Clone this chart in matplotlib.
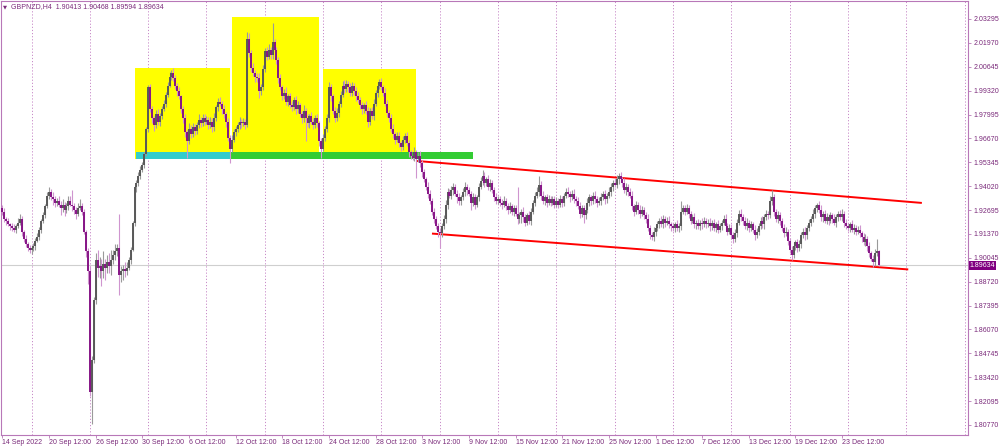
import matplotlib
matplotlib.use("Agg")
import matplotlib.pyplot as plt
from matplotlib.patches import Rectangle
from matplotlib.transforms import blended_transform_factory
import numpy as np
import pandas as pd
from datetime import datetime

# ---------------- data ----------------
symbol = "GBPNZD,H4"
header_ohlc = ["1.90413", "1.90468", "1.89594", "1.89634"]
first_open = 1.928
last_price = 1.89634

# H4 closes, one list per trading week
c_sep14 = [1.926, 1.922, 1.921, 1.919, 1.918, 1.917, 1.916, 1.918, 1.920, 1.922, 1.915, 1.911, 1.908, 1.906, 1.905]
c_sep19 = [1.906, 1.907, 1.910, 1.912, 1.916, 1.921, 1.924, 1.929, 1.935, 1.937, 1.934, 1.933, 1.931, 1.932, 1.930,
           1.928, 1.930, 1.927, 1.929, 1.932, 1.930, 1.929, 1.927, 1.925, 1.928, 1.929, 1.926, 1.915, 1.904, 1.893]
c_sep26 = [1.826, 1.844, 1.877, 1.899, 1.895, 1.896, 1.893, 1.897, 1.895, 1.898, 1.896, 1.899, 1.902, 1.904, 1.906,
           1.891, 1.893, 1.894, 1.893, 1.895, 1.899, 1.905, 1.920, 1.940, 1.942, 1.946, 1.949, 1.952, 1.958, 1.972]
c_oct03 = [1.995, 1.983, 1.978, 1.974, 1.980, 1.976, 1.979, 1.983, 1.986, 1.991, 1.996, 2.001, 2.003, 2.000, 1.996,
           1.993, 1.990, 1.983, 1.978, 1.970, 1.965, 1.972, 1.969, 1.973, 1.971, 1.974, 1.977, 1.975, 1.978, 1.976]
c_oct10 = [1.977, 1.974, 1.976, 1.973, 1.978, 1.984, 1.987, 1.986, 1.983, 1.980, 1.976, 1.967, 1.961, 1.966, 1.970,
           1.972, 1.974, 1.976, 1.975, 1.976, 1.974, 2.022, 2.014, 2.006, 2.003, 2.001, 2.000, 1.993, 1.995, 2.005]
c_oct17 = [2.015, 2.012, 2.016, 2.013, 2.020, 2.016, 2.010, 2.000, 1.995, 1.990, 1.992, 1.987, 1.990, 1.985, 1.984,
           1.988, 1.983, 1.985, 1.980, 1.978, 1.982, 1.978, 1.975, 1.979, 1.976, 1.974, 1.978, 1.975, 1.965, 1.961]
c_oct24 = [1.967, 1.972, 1.978, 1.995, 1.990, 1.982, 1.978, 1.981, 1.986, 1.991, 1.996, 1.994, 1.997, 1.995, 1.992,
           1.996, 1.993, 1.990, 1.988, 1.985, 1.983, 1.985, 1.982, 1.976, 1.982, 1.979, 1.986, 1.992, 1.996, 1.998]
c_oct31 = [1.995, 1.992, 1.986, 1.981, 1.978, 1.972, 1.969, 1.966, 1.968, 1.964, 1.962, 1.966, 1.968, 1.964, 1.959,
           1.957, 1.956, 1.959, 1.955, 1.957, 1.953, 1.948, 1.944, 1.940, 1.936, 1.932, 1.926, 1.922, 1.918, 1.915]
c_nov07 = [1.914, 1.918, 1.922, 1.930, 1.937, 1.935, 1.938, 1.940, 1.936, 1.934, 1.932, 1.934, 1.937, 1.940, 1.938,
           1.936, 1.931, 1.934, 1.930, 1.934, 1.940, 1.943, 1.946, 1.942, 1.944, 1.940, 1.942, 1.938, 1.934, 1.932]
c_nov14 = [1.933, 1.931, 1.930, 1.932, 1.929, 1.927, 1.929, 1.926, 1.928, 1.925, 1.922, 1.924, 1.926, 1.923, 1.920,
           1.924, 1.921, 1.926, 1.931, 1.935, 1.937, 1.941, 1.935, 1.932, 1.934, 1.931, 1.933, 1.931, 1.933, 1.930]
c_nov21 = [1.932, 1.930, 1.933, 1.931, 1.935, 1.937, 1.936, 1.934, 1.936, 1.933, 1.932, 1.929, 1.925, 1.928, 1.924,
           1.927, 1.931, 1.934, 1.932, 1.935, 1.933, 1.931, 1.932, 1.934, 1.936, 1.933, 1.935, 1.937, 1.940, 1.942]
c_nov28 = [1.941, 1.944, 1.946, 1.944, 1.942, 1.938, 1.940, 1.937, 1.935, 1.929, 1.926, 1.930, 1.927, 1.925, 1.927,
           1.924, 1.922, 1.917, 1.913, 1.912, 1.915, 1.917, 1.919, 1.921, 1.919, 1.922, 1.920, 1.921, 1.919, 1.918]
c_dec05 = [1.917, 1.919, 1.917, 1.918, 1.926, 1.928, 1.926, 1.928, 1.925, 1.921, 1.923, 1.919, 1.920, 1.918, 1.920,
           1.919, 1.921, 1.919, 1.920, 1.918, 1.920, 1.917, 1.919, 1.916, 1.918, 1.920, 1.922, 1.918, 1.915, 1.917]
c_dec12 = [1.913, 1.911, 1.914, 1.920, 1.925, 1.923, 1.921, 1.918, 1.920, 1.917, 1.919, 1.916, 1.913, 1.915, 1.918,
           1.921, 1.919, 1.923, 1.925, 1.924, 1.932, 1.934, 1.926, 1.922, 1.924, 1.921, 1.917, 1.914, 1.915, 1.910]
c_dec19 = [1.905, 1.902, 1.907, 1.909, 1.906, 1.908, 1.913, 1.915, 1.913, 1.917, 1.920, 1.922, 1.925, 1.928, 1.930,
           1.927, 1.923, 1.925, 1.921, 1.923, 1.921, 1.924, 1.922, 1.920, 1.923, 1.925, 1.923, 1.925, 1.920, 1.918]
c_dec26 = [1.917, 1.919, 1.916, 1.917, 1.915, 1.916, 1.914, 1.912, 1.909, 1.911, 1.907, 1.903, 1.900, 1.898, 1.903,
           1.90413, 1.89634]

# upper / lower wick lengths in pips beyond the candle body
h_sep14 = [15, 20, 12, 18, 10, 15, 20, 12, 25, 30, 15, 10, 20, 12, 15]
l_sep14 = [20, 15, 25, 10, 20, 15, 12, 20, 10, 15, 25, 20, 15, 18, 20]
h_sep19 = [10, 15, 12, 20, 15, 10, 18, 12, 20, 25, 15, 30, 20, 15, 25, 20, 30, 15, 20, 25, 30, 80, 20, 15, 30, 40, 20, 15, 10, 20]
l_sep19 = [25, 15, 20, 10, 15, 20, 12, 15, 10, 20, 15, 30, 25, 20, 15, 40, 20, 35, 15, 20, 10, 25, 20, 30, 15, 10, 20, 15, 30, 70]
h_sep26 = [30, 20, 15, 40, 60, 50, 40, 70, 30, 40, 50, 60, 30, 40, 20, 190, 30, 25, 40, 30, 20, 15, 10, 10, 15, 20, 25, 15, 10, 10]
l_sep26 = [20, 180, 20, 20, 50, 60, 80, 40, 70, 30, 40, 50, 20, 30, 25, 110, 40, 50, 30, 20, 15, 20, 10, 20, 30, 15, 20, 10, 15, 10]
h_oct03 = [15, 20, 15, 10, 25, 30, 20, 15, 20, 15, 20, 25, 15, 30, 20, 15, 20, 10, 15, 20, 15, 30, 20, 25, 15, 20, 30, 15, 20, 25]
l_oct03 = [20, 15, 25, 30, 15, 20, 25, 15, 10, 20, 15, 10, 20, 15, 20, 25, 15, 20, 30, 25, 90, 15, 20, 15, 25, 20, 15, 20, 15, 20]
h_oct10 = [20, 15, 25, 20, 30, 15, 20, 25, 15, 20, 15, 20, 15, 25, 20, 15, 20, 25, 15, 20, 15, 40, 30, 20, 25, 15, 20, 30, 20, 25]
l_oct10 = [15, 20, 15, 25, 20, 15, 20, 15, 25, 20, 30, 15, 80, 20, 15, 20, 15, 20, 25, 15, 20, 10, 20, 25, 15, 30, 20, 40, 20, 15]
h_oct17 = [20, 25, 30, 15, 110, 20, 15, 20, 25, 15, 20, 30, 15, 20, 25, 15, 20, 25, 15, 20, 30, 15, 20, 15, 25, 20, 15, 20, 15, 20]
l_oct17 = [15, 20, 15, 25, 20, 15, 20, 25, 15, 20, 15, 20, 25, 15, 20, 15, 25, 20, 15, 30, 20, 130, 20, 25, 15, 20, 15, 20, 25, 50]
h_oct24 = [20, 15, 25, 30, 20, 15, 20, 25, 15, 20, 25, 30, 20, 15, 25, 20, 15, 20, 25, 15, 20, 15, 25, 20, 15, 20, 25, 15, 20, 15]
l_oct24 = [15, 20, 15, 20, 25, 15, 20, 15, 25, 20, 15, 20, 15, 25, 20, 15, 20, 25, 15, 20, 25, 20, 15, 30, 20, 15, 20, 15, 25, 20]
h_oct31 = [20, 15, 25, 20, 15, 20, 25, 15, 20, 25, 15, 20, 15, 25, 20, 15, 20, 30, 15, 20, 25, 15, 20, 15, 25, 20, 15, 20, 15, 20]
l_oct31 = [15, 20, 15, 25, 20, 15, 20, 25, 15, 20, 25, 15, 20, 15, 25, 20, 15, 20, 100, 15, 20, 25, 15, 20, 25, 15, 20, 25, 15, 30]
h_nov07 = [20, 15, 20, 25, 20, 15, 25, 20, 15, 20, 25, 15, 20, 25, 15, 20, 15, 25, 20, 15, 20, 25, 30, 20, 15, 25, 20, 15, 20, 25]
l_nov07 = [80, 20, 15, 20, 25, 15, 20, 25, 15, 30, 20, 25, 15, 20, 25, 15, 40, 20, 25, 15, 20, 15, 20, 25, 15, 20, 25, 15, 20, 15]
h_nov14 = [20, 15, 20, 25, 15, 20, 25, 15, 20, 15, 150, 20, 15, 25, 20, 15, 25, 20, 15, 20, 25, 50, 20, 25, 15, 20, 25, 15, 20, 15]
l_nov14 = [15, 20, 25, 15, 20, 25, 15, 20, 25, 15, 30, 20, 40, 25, 20, 15, 20, 25, 15, 20, 15, 20, 25, 15, 20, 25, 15, 20, 15, 20]
h_nov21 = [20, 15, 25, 20, 15, 20, 25, 15, 20, 25, 15, 20, 25, 15, 20, 15, 25, 20, 15, 20, 25, 15, 20, 25, 15, 20, 15, 25, 20, 15]
l_nov21 = [15, 20, 15, 25, 20, 15, 20, 25, 15, 20, 30, 15, 25, 20, 40, 20, 15, 20, 25, 15, 20, 25, 15, 20, 15, 25, 20, 15, 20, 25]
h_nov28 = [20, 25, 15, 20, 15, 25, 20, 15, 20, 25, 15, 20, 15, 25, 20, 15, 20, 25, 15, 20, 25, 15, 20, 15, 25, 20, 15, 20, 25, 15]
l_nov28 = [15, 20, 25, 15, 20, 15, 25, 20, 15, 20, 25, 15, 20, 25, 15, 20, 25, 15, 20, 15, 20, 25, 15, 20, 15, 20, 25, 15, 20, 25]
h_dec05 = [20, 15, 25, 20, 60, 20, 15, 25, 20, 15, 20, 25, 15, 20, 15, 25, 20, 15, 20, 25, 15, 20, 15, 25, 20, 15, 20, 25, 15, 20]
l_dec05 = [15, 20, 15, 25, 20, 15, 20, 15, 25, 20, 15, 20, 25, 15, 20, 25, 15, 20, 15, 25, 20, 15, 25, 20, 15, 20, 15, 25, 20, 15]
h_dec12 = [20, 15, 25, 20, 20, 25, 15, 20, 25, 15, 20, 15, 25, 20, 15, 20, 25, 15, 20, 15, 30, 40, 20, 15, 25, 20, 15, 20, 25, 15]
l_dec12 = [20, 25, 15, 20, 15, 20, 25, 15, 20, 25, 15, 20, 25, 15, 20, 15, 20, 25, 15, 20, 15, 20, 25, 15, 20, 25, 15, 20, 15, 25]
h_dec19 = [15, 20, 25, 15, 20, 25, 15, 20, 25, 15, 20, 15, 25, 20, 10, 20, 25, 15, 20, 25, 15, 20, 15, 25, 20, 15, 20, 25, 15, 20]
l_dec19 = [20, 30, 15, 20, 25, 15, 20, 15, 25, 20, 15, 20, 15, 25, 20, 15, 20, 25, 15, 20, 25, 15, 20, 15, 25, 20, 15, 20, 25, 15]
h_dec26 = [20, 15, 25, 20, 15, 20, 25, 15, 20, 25, 15, 20, 15, 20, 25, 70, 5.5]
l_dec26 = [15, 20, 15, 25, 20, 15, 20, 25, 15, 20, 25, 20, 15, 25, 20, 15, 4]

x_labels = ["14 Sep 2022", "20 Sep 12:00", "26 Sep 12:00", "30 Sep 12:00", "6 Oct 12:00", "12 Oct 12:00",
            "18 Oct 12:00", "24 Oct 12:00", "28 Oct 12:00", "3 Nov 12:00", "9 Nov 12:00", "15 Nov 12:00",
            "21 Nov 12:00", "25 Nov 12:00", "1 Dec 12:00", "7 Dec 12:00", "13 Dec 12:00", "19 Dec 12:00",
            "23 Dec 12:00"]
y_ticks = [1.80770, 1.82095, 1.83420, 1.84745, 1.86070, 1.87395, 1.88720, 1.90045, 1.91370,
           1.92695, 1.94020, 1.95345, 1.96670, 1.97995, 1.99320, 2.00645, 2.01970, 2.03295]

# chart objects (time1, time2, price1, price2)
yellow_boxes = [("2022-09-29 20:00", "2022-10-12 00:00", 2.0059, 1.9553),
                ("2022-10-12 04:00", "2022-10-21 16:00", 2.0340, 1.9553),
                ("2022-10-24 00:00", "2022-11-03 00:00", 2.0051, 1.9553)]
cyan_box = ("2022-09-30 00:00", "2022-10-12 00:00", 1.9591, 1.9553)
green_box = ("2022-10-12 00:00", "2022-11-09 20:00", 1.9591, 1.9553)
channel_lines = [("2022-11-03 00:00", "2023-01-03 08:00", 1.9542, 1.9309),
                 ("2022-11-04 08:00", "2023-01-02 04:00", 1.9139, 1.8940)]

# ---------------- assemble ----------------
closes = np.array(c_sep14 + c_sep19 + c_sep26 + c_oct03 + c_oct10 + c_oct17 + c_oct24 + c_oct31 +
                  c_nov07 + c_nov14 + c_nov21 + c_nov28 + c_dec05 + c_dec12 + c_dec19 + c_dec26)
whi = np.array(h_sep14 + h_sep19 + h_sep26 + h_oct03 + h_oct10 + h_oct17 + h_oct24 + h_oct31 +
               h_nov07 + h_nov14 + h_nov21 + h_nov28 + h_dec05 + h_dec12 + h_dec19 + h_dec26) * 1e-4
wlo = np.array(l_sep14 + l_sep19 + l_sep26 + l_oct03 + l_oct10 + l_oct17 + l_oct24 + l_oct31 +
               l_nov07 + l_nov14 + l_nov21 + l_nov28 + l_dec05 + l_dec12 + l_dec19 + l_dec26) * 1e-4
opens = np.concatenate([[first_open], closes[:-1]])
highs = np.maximum(opens, closes) + whi
lows = np.minimum(opens, closes) - wlo
n = len(closes)

times = pd.date_range("2022-09-14 12:00", "2023-01-20 00:00", freq="4h")
times = times[times.weekday < 5]


def pos(t):
    return times.get_loc(pd.Timestamp(t))


xs = np.arange(n)

# ---------------- figure ----------------
W, H = 1000, 446
fig = plt.figure(figsize=(W / 100, H / 100), dpi=100)
fig.patch.set_facecolor("white")
ax = fig.add_axes([0.5 / W, (H - 435) / H, 968 / W, 434 / H])
ax.set_facecolor("white")

px_per_bar = 1.944
ax.set_xlim(-0.95, -0.95 + 968 / px_per_bar)
ax.set_ylim(1.80215, 2.04293)

frame_c = "#b878b8"
text_c = "#7a2a7a"
for s in ax.spines.values():
    s.set_color(frame_c)
    s.set_linewidth(0.8)

# weekly separators
mondays = [k for k, t in enumerate(times) if t.weekday() == 0 and t.hour == 0]
for k in mondays:
    if k < 497:
        ax.axvline(k, color="#c88ac8", lw=0.7, ls=(0, (1.2, 2.0)), zorder=0.5)

# current price line
ax.axhline(last_price, color="#cfcfcf", lw=0.8, zorder=0.6)

# boxes
for t1, t2, p1, p2 in yellow_boxes:
    ax.add_patch(Rectangle((pos(t1), p2), pos(t2) - pos(t1), p1 - p2, fc="#ffff00", ec="none", zorder=1))
for (t1, t2, p1, p2), col in [(cyan_box, "#33cccc"), (green_box, "#33cc33")]:
    ax.add_patch(Rectangle((pos(t1), p2), pos(t2) - pos(t1), p1 - p2, fc=col, ec="none", zorder=1.2))

# channel
for t1, t2, p1, p2 in channel_lines:
    ax.plot([pos(t1), pos(t2)], [p1, p2], color="#ff0000", lw=1.4, zorder=2, solid_capstyle="butt")

# candles
bull = closes >= opens
wick_col = np.where(bull, "#9a9a9a", "#cf95cf")
body_col = np.where(bull, "#585858", "#861486")
ax.vlines(xs, lows, highs, colors=wick_col, lw=0.8, zorder=3)
body_top = np.maximum(opens, closes)
body_bot = np.minimum(opens, closes)
body_bot = np.where(body_top - body_bot < 0.0003, body_bot - 0.00015, body_bot)
body_top = np.where(body_top - body_bot < 0.0003, body_top + 0.00015, body_top)
ax.vlines(xs, body_bot, body_top, colors=body_col, lw=1.4, zorder=3.1)

# axes ticks
fam = ["Liberation Sans", "DejaVu Sans"]
fs = 5.0
ax.yaxis.tick_right()
ax.set_yticks(y_ticks)
ax.set_yticklabels([f"{v:.5f}" for v in y_ticks], fontsize=fs, color=text_c, family=fam)
ax.tick_params(axis="y", length=2.2, width=0.6, color=frame_c, pad=1.2)

xpos = []
for lab in x_labels:
    if lab.endswith("2022"):
        t = datetime.strptime(lab, "%d %b %Y")
        xpos.append(int(times.searchsorted(pd.Timestamp(t))))
    else:
        t = datetime.strptime(lab + " 2022", "%d %b %H:%M %Y")
        xpos.append(pos(t))
ax.set_xticks(xpos)
ax.set_xticklabels(x_labels, fontsize=fs, color=text_c, family=fam, ha="left")
ax.tick_params(axis="x", length=2.2, width=0.6, color=frame_c, pad=0.6)

# price label
tr = blended_transform_factory(ax.transAxes, ax.transData)
ax.text(1.0015, last_price, f"{last_price:.5f}", transform=tr, ha="left", va="center",
        fontsize=fs, color="white", family=fam, clip_on=False, zorder=10,
        bbox=dict(boxstyle="square,pad=0.15", fc="#800080", ec="none"))

# header
fig.text(3 / W, 1 - 6.5 / H, "▼", fontsize=3.8, color=text_c, family=["DejaVu Sans"], ha="left", va="center")
fig.text(11 / W, 1 - 6.5 / H, f"{symbol}  " + " ".join(header_ohlc), fontsize=fs, color=text_c,
         family=fam, ha="left", va="center")

fig.savefig("out.png", dpi=100, facecolor="white")
